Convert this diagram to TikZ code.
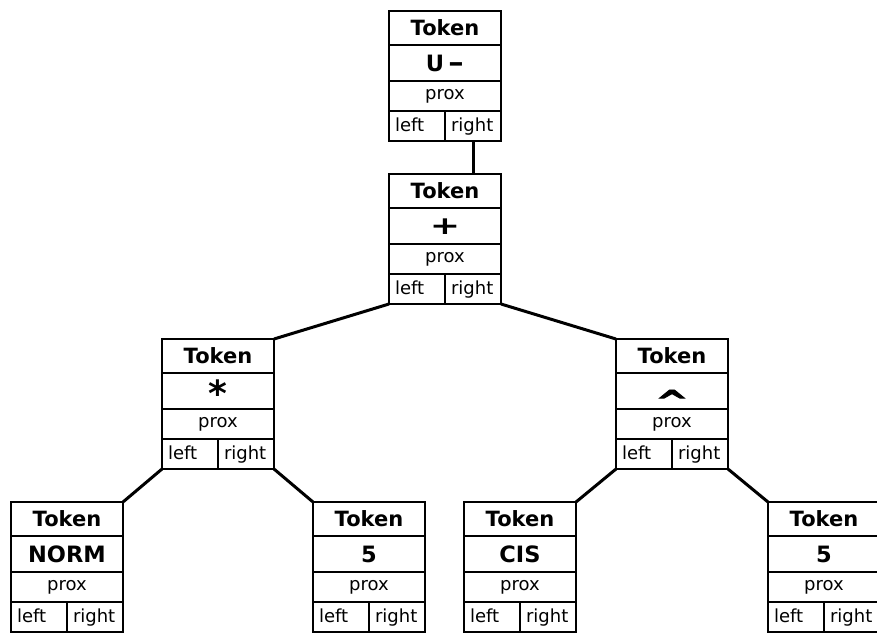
\documentclass[tikz,border=0pt]{standalone}
\usepackage{fontspec}
\setmainfont{DejaVu Sans}
\begin{document}
\begin{tikzpicture}[x=1pt,y=-1pt,
  cell/.style={draw,line width=2.1pt,inner sep=0pt,outer sep=0pt,anchor=north west,minimum width=112pt},
  half/.style={cell,minimum width=56pt,minimum height=30pt,text width=44pt,inner xsep=6pt,align=left,
    text height=13pt,text depth=3pt,font=\fontsize{18}{18}\selectfont},
  headrow/.style={cell,minimum height=34pt,font=\fontsize{21}{21}\selectfont\bfseries},
  oprow/.style={cell,minimum height=36pt,text height=16pt,text depth=0pt,font=\fontsize{22.5}{23}\selectfont\bfseries},
  proxrow/.style={cell,minimum height=30pt,font=\fontsize{18}{18}\selectfont},
  link/.style={line width=3pt}]
\clip (0,0) rectangle (877,633);
\fill[white] (0,0) rectangle (877,633);

% operator glyphs
\newcommand\opneg{U\,\scalebox{1.75}[1.1]{-}}
\newcommand\opplus{{\fontsize{25}{25}\selectfont\scalebox{1.45}[1]{+}}}
\newcommand\opmul{{\fontsize{36}{36}\selectfont\raisebox{-0.21em}{*}}}
\newcommand\oppow{{\addfontfeature{FakeBold=2.5}\raisebox{-0.58em}[0pt][0pt]{\scalebox{1.75}[1.35]{\textasciicircum}}}}

% one token record: name, left x, top y, operator text
\newcommand\tokenbox[4]{%
  \node[headrow] (#1-t) at (#2,#3) {Token};
  \node[oprow] (#1-o) at (#2,{#3+34}) {#4};
  \node[proxrow] (#1-p) at (#2,{#3+70}) {prox};
  \node[half] (#1-l) at (#2,{#3+100}) {left};
  \node[half] (#1-r) at ({#2+56},{#3+100}) {right};
}

\tokenbox{neg}{389}{11}{\opneg}
\tokenbox{plus}{389}{174}{\opplus}
\tokenbox{mul}{162}{339}{\opmul}
\tokenbox{pow}{616}{339}{\oppow}
\tokenbox{norm}{11}{502}{NORM}
\tokenbox{fiveA}{313}{502}{5}
\tokenbox{cis}{464}{502}{CIS}
\tokenbox{fiveB}{768}{502}{5}

% tree links
\draw[link] (neg-r.south) -- (neg-r.south |- plus-t.north);
\draw[link] (plus-l.south west) -- (mul-t.north east);
\draw[link] (plus-r.south east) -- (pow-t.north west);
\draw[link] (mul-l.south west) -- (norm-t.north east);
\draw[link] (mul-r.south east) -- (fiveA-t.north west);
\draw[link] (pow-l.south west) -- (cis-t.north east);
\draw[link] (pow-r.south east) -- (fiveB-t.north west);
\end{tikzpicture}
\end{document}
